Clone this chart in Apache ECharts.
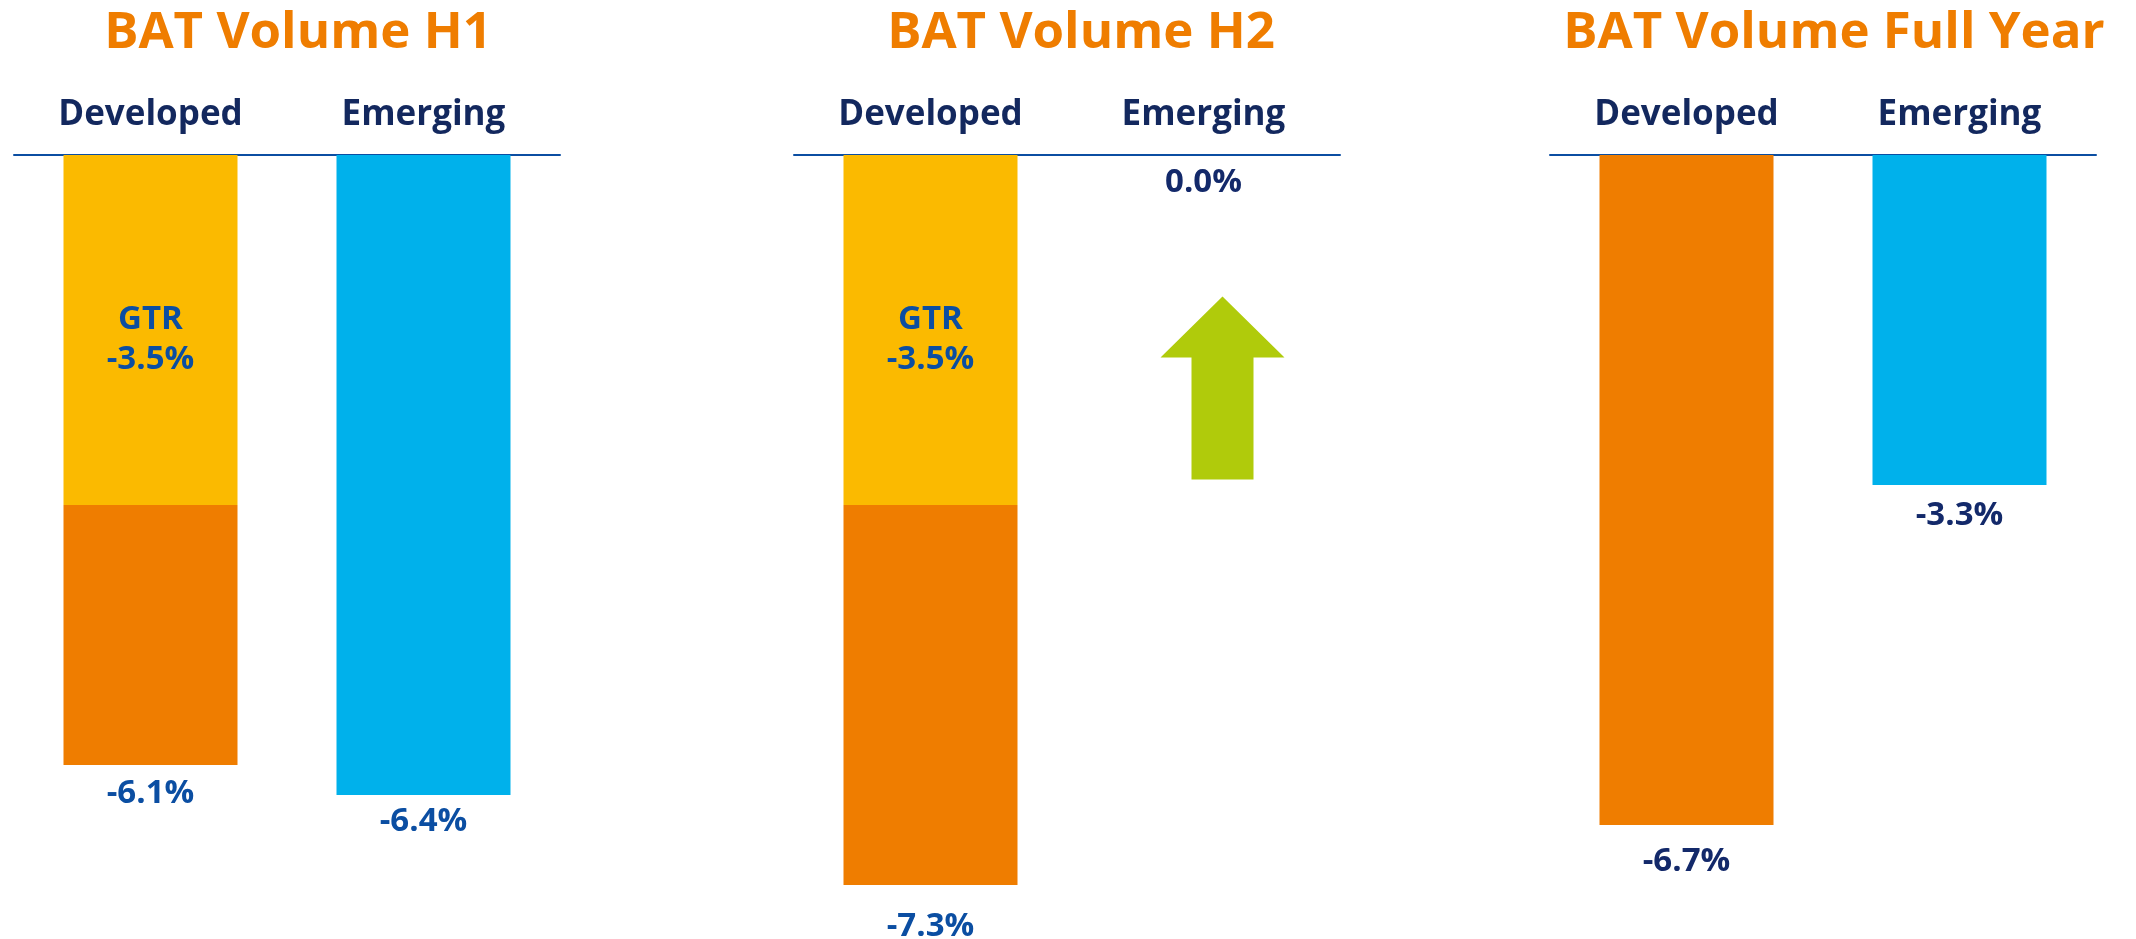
<!DOCTYPE html>
<html>
<head>
<meta charset="utf-8">
<title>BAT Volume</title>
<script src="https://cdn.jsdelivr.net/npm/echarts@6/dist/echarts.min.js"></script>
<style>
  html, body { margin: 0; padding: 0; background: #fff; }
  #chart { width: 2136px; height: 939px; }
</style>
</head>
<body>
<div id="chart"></div>
<script>
// data
const categories = ['Developed', 'Emerging']
const periods = ['H1', 'H2', 'Full Year']
const gtrDeveloped = [-3.5, -3.5, null] // GTR part of the developed drop
const developed = [-6.1, -7.3, -6.7]
const emerging = [-6.4, 0.0, -3.3]

// layout / styles
const gridLeft = [14, 794, 1550]
const titleCenter = [298, 1081, 1834]
const devGap = [12, 25, 20]
const emgGap = [10, 11, 14]
const valueColor = ['#0b4ea2', '#0b4ea2', '#13296a']
const emgColor = ['#0b4ea2', '#13296a', '#13296a']

const YELLOW = '#fbba00'
const ORANGE = '#ef7d00'
const CYAN = '#00b1eb'
const NAVY = '#13285e'
const BLUE = '#0b4ea2'
const GREEN = '#b0cb0b'
const FONT = '"Open Sans", "Liberation Sans", sans-serif'

const fmt = v => Number(v).toFixed(1) + '%'

let grids = []
let xAxes = []
let yAxes = []
let series = []
let texts = []

periods.forEach((p, i) => {
  grids.push({ left: gridLeft[i], top: 155, width: 546, height: 780 })
  xAxes.push({
    gridIndex: i,
    type: 'category',
    position: 'top',
    data: categories,
    axisLine: { lineStyle: { color: BLUE, width: 2 } },
    axisTick: { show: false },
    axisLabel: {
      margin: 40,
      verticalAlign: 'middle',
      color: NAVY,
      fontFamily: FONT,
      fontWeight: 'bold',
      fontSize: 35
    }
  })
  yAxes.push({
    gridIndex: i,
    type: 'value',
    min: -7.8,
    max: 0,
    show: false,
    splitLine: { show: false }
  })
  const labelBase = { fontFamily: FONT, fontWeight: 'bold', fontSize: 33, lineHeight: 33 }
  // yellow GTR part of developed
  series.push({
    name: 'GTR',
    type: 'bar',
    xAxisIndex: i,
    yAxisIndex: i,
    stack: 'p' + i,
    barWidth: 174,
    data: [gtrDeveloped[i] === null ? '-' : gtrDeveloped[i], '-'],
    itemStyle: { color: YELLOW },
    label: {
      show: true,
      position: 'inside',
      offset: [0, 10],
      color: BLUE,
      ...labelBase,
      lineHeight: 40,
      formatter: d => 'GTR\n' + fmt(d.value)
    }
  })
  // rest of developed, label shows the total
  let rest = gtrDeveloped[i] === null ? developed[i] : +(developed[i] - gtrDeveloped[i]).toFixed(1)
  series.push({
    name: 'Developed',
    type: 'bar',
    xAxisIndex: i,
    yAxisIndex: i,
    stack: 'p' + i,
    barWidth: 174,
    data: [rest, '-'],
    itemStyle: { color: ORANGE },
    label: {
      show: true,
      position: 'bottom',
      distance: devGap[i],
      color: valueColor[i],
      ...labelBase,
      formatter: () => fmt(developed[i])
    }
  })
  let emg = {
    name: 'Emerging',
    type: 'bar',
    xAxisIndex: i,
    yAxisIndex: i,
    stack: 'p' + i,
    barWidth: 174,
    barMinHeight: 2,
    data: ['-', {
      value: emerging[i],
      itemStyle: { color: emerging[i] === 0 ? YELLOW : CYAN }
    }],
    label: {
      show: true,
      position: 'bottom',
      distance: emgGap[i],
      color: emgColor[i],
      ...labelBase,
      formatter: d => fmt(d.value)
    }
  }
  if (emerging[i] === 0) {
    // green up arrow next to the flat emerging bar
    emg.markPoint = {
      silent: true,
      symbol: 'path://M62,0 L124,61 L93,61 L93,183 L31,183 L31,61 L0,61 Z',
      symbolSize: [124, 183],
      symbolOffset: [19, 0],
      itemStyle: { color: GREEN },
      label: { show: false },
      data: [{ coord: ['Emerging', -2.33] }]
    }
  }
  series.push(emg)

  texts.push({
    type: 'text',
    x: titleCenter[i],
    y: 33,
    style: {
      text: 'BAT Volume ' + p,
      align: 'center',
      verticalAlign: 'middle',
      fill: ORANGE,
      font: 'bold 51px ' + FONT
    }
  })
})

let myChart = echarts.init(document.getElementById('chart'))
myChart.setOption({
  backgroundColor: '#fff',
  animation: false,
  grid: grids,
  xAxis: xAxes,
  yAxis: yAxes,
  series: series,
  graphic: texts
})
</script>
</body>
</html>
